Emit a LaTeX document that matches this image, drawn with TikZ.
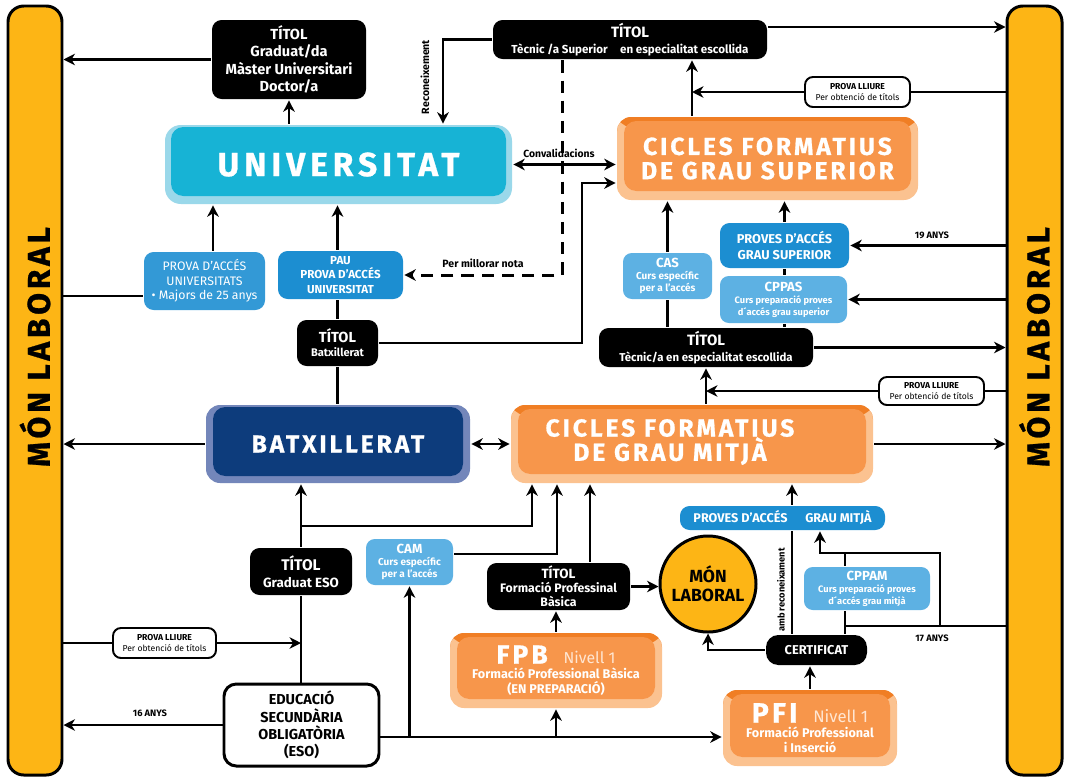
\documentclass[tikz,border=0pt]{standalone}
\usepackage{fontspec}
\setmainfont{Fira Sans}
\newfontfamily\widefont{Fira Sans}[LetterSpace=12, BoldFeatures={FakeBold=0.8}]
\newfontfamily\uniwide{Fira Sans}[LetterSpace=15, BoldFeatures={FakeBold=0.8}]
\usetikzlibrary{arrows.meta,calc}

\definecolor{barY}{HTML}{FDB515}
\definecolor{uniIn}{HTML}{17B3D5}
\definecolor{uniRim}{HTML}{9AD8EA}
\definecolor{cfIn}{HTML}{F7964B}
\definecolor{cfTop}{HTML}{F07E24}
\definecolor{cfRim}{HTML}{FBC290}
\definecolor{btIn}{HTML}{0D3C7C}
\definecolor{btRim}{HTML}{7386BA}
\definecolor{blueBox}{HTML}{1C8ED1}
\definecolor{lightBox}{HTML}{5DB1E3}
\definecolor{nivC}{HTML}{FFE6D2}

\newcommand{\fsz}[2]{\fontsize{#1}{#2}\selectfont}

\begin{document}
\begin{tikzpicture}[x=0.02cm, y=-0.02cm, line width=1.5pt,
    >={Stealth[length=6.5pt,width=6.5pt,inset=2pt]},
    sz/.style 2 args={minimum width=#1*0.02cm, minimum height=#2*0.02cm, inner sep=0pt},
    bar/.style={draw=black, line width=1.7pt, fill=barY, rounded corners=9pt},
    blackbox/.style={fill=black, text=white, rounded corners=5.5pt, align=center},
    bluebox/.style={fill=blueBox, text=white, rounded corners=5.5pt, align=center},
    lightbox/.style={fill=lightBox, text=white, rounded corners=5pt, align=center},
    freebox/.style={draw=black, line width=1.1pt, fill=white, rounded corners=4.5pt,
        align=center, font=\fsz{4.9}{6}},
    unibox/.style={fill=uniRim, rounded corners=9pt, text=white, align=center,
        path picture={
            \fill[uniIn, rounded corners=7pt]
                ([shift={(6,2)}]path picture bounding box.north west) rectangle
                ([shift={(-6,-8)}]path picture bounding box.south east);
        }},
    cfbox/.style={fill=cfRim, rounded corners=8pt, text=white, align=center,
        path picture={
            \fill[cfTop] (path picture bounding box.north west) rectangle
                ([shift={(0,10)}]path picture bounding box.north east);
            \fill[cfIn, rounded corners=7pt]
                ([shift={(7,4)}]path picture bounding box.north west) rectangle
                ([shift={(-7,-9)}]path picture bounding box.south east);
        }},
    btbox/.style={fill=btRim, rounded corners=8pt, text=white, align=center,
        path picture={
            \fill[btIn, rounded corners=7pt]
                ([shift={(7,2)}]path picture bounding box.north west) rectangle
                ([shift={(-7,-7)}]path picture bounding box.south east);
        }},
    dashline/.style={dash pattern=on 7pt off 4.5pt, line width=1.7pt},
    lbl/.style={font=\bfseries\fsz{5.3}{6}, inner sep=0pt},
  ]
  \useasboundingbox (0,0) rectangle (1068,778);

  % side bars
  \node[bar, sz={54}{769}] (lbar) at (35,390.5) {};
  \node[bar, sz={55}{769}] (rbar) at (1034.5,390.5) {};
  \foreach \b in {lbar, rbar}
    \node[rotate=90, font=\widefont\bfseries\fsz{18}{18}] (\b-txt) at (\b |- 0,347) {MÓN LABORAL};

  % upper part
  \node[blackbox, sz={154}{79}, font=\bfseries\fsz{8.3}{9.9}] (titgrad) at (289,59.5)
    {TÍTOL\\Graduat/da\\Màster Universitari\\Doctor/a};
  \node[unibox, sz={347}{79}, font=\uniwide\bfseries\fsz{19}{19}] (uni) at (338.5,164.5) {UNIVERSITAT};
  \node[blackbox, sz={274}{39}, font=\bfseries\fsz{6.6}{8.8}] (titsup) at (630,39.5)
    {{\fsz{8.5}{8.8}TÍTOL}\\Tècnic /a Superior\hspace{7pt}en especialitat escollida};
  \node[cfbox, sz={301}{83}, font=\widefont\bfseries\fsz{14}{13.8}] (cfgs) at (767.5,158.5)
    {CICLES FORMATIUS\\DE GRAU SUPERIOR};
  \node[freebox, sz={105}{30}] (lliure1) at (857.5,92) {\textbf{PROVA LLIURE}\\Per obtenció de títols};

  \node[bluebox, fill=blueBox!90!white, sz={121}{58}, font=\fsz{7}{8.3}] (pauniv) at (204.5,281)
    {PROVA D'ACCÉS\\UNIVERSITATS\\• Majors de 25 anys};
  \node[bluebox, sz={125}{48}, font=\bfseries\fsz{6.6}{8.3}] (pau) at (340.5,275)
    {PAU\\PROVA D'ACCÉS\\UNIVERSITAT};
  \node[blackbox, sz={81}{46}, font=\bfseries\fsz{6.3}{8}] (titbatx) at (337.5,343)
    {{\fsz{8.3}{9}TÍTOL}\\Batxillerat};
  \node[lightbox, sz={89}{46}, font=\bfseries\fsz{5.7}{7}] (cas) at (667.5,276)
    {{\fsz{7.5}{8}CAS}\\Curs específic\\per a l'accés};
  \node[bluebox, sz={129}{45}, font=\bfseries\fsz{7.3}{9.6}] (pgs) at (784.5,245.5)
    {PROVES D'ACCÉS\\GRAU SUPERIOR};
  \node[lightbox, sz={127}{47}, font=\bfseries\fsz{5.3}{6.8}] (cppas) at (783.5,299.5)
    {{\fsz{7.5}{8}CPPAS}\\Curs preparació proves\\d´accés grau superior};
  \node[blackbox, sz={214}{39}, font=\bfseries\fsz{6.5}{8.8}] (tittec) at (706,347.5)
    {{\fsz{8.5}{8.8}TÍTOL}\\Tècnic/a en especialitat escollida};
  \node[freebox, sz={105}{28}] (lliure2) at (931.5,391) {\textbf{PROVA LLIURE}\\Per obtenció de títols};

  % middle
  \node[btbox, sz={264}{78}, font=\widefont\bfseries\fsz{14}{14}] (batx) at (338,444) {BATXILLERAT};
  \node[cfbox, sz={362}{78}] (cfgm) at (692,444) {};
  \node[font=\widefont\bfseries\fsz{14}{13.8}, text=white, align=center] (cfgm-txt) at (670,442)
    {CICLES FORMATIUS\\DE GRAU MITJÀ};

  % lower part
  \node[bluebox, sz={205}{24}, font=\bfseries\fsz{7.2}{7.5}] (pgm) at (782.5,518)
    {PROVES D'ACCÉS\hspace{10pt}GRAU MITJÀ};
  \node[blackbox, sz={102}{47}, font=\bfseries\fsz{7.6}{9.8}] (titeso) at (301,571.5)
    {{\fsz{8.8}{9.8}TÍTOL}\\Graduat ESO};
  \node[lightbox, sz={87}{46}, font=\bfseries\fsz{5.7}{7}] (cam) at (409.5,562)
    {{\fsz{7.5}{8}CAM}\\Curs específic\\per a l'accés};
  \node[blackbox, sz={143}{47}, font=\bfseries\fsz{7}{8}] (titfpb) at (558.5,586.5)
    {{\fsz{7.6}{8}TÍTOL}\\Formació Professinal\\Bàsica};
  \node[circle, draw=black, line width=1.7pt, fill=barY, minimum size=96*0.02cm, inner sep=0pt,
    align=center, font=\bfseries\fsz{10}{11}] (mon) at (708,584) {MÓN\\LABORAL};
  \node[lightbox, sz={126}{43}, font=\bfseries\fsz{5.3}{6.8}] (cppam) at (867,588.5)
    {{\fsz{7.5}{8}CPPAM}\\Curs preparació proves\\d´accés grau mitjà};
  \node[blackbox, rounded corners=7pt, sz={101}{30}, font=\bfseries\fsz{7.3}{7.5}] (cert) at (816.5,650) {CERTIFICAT};
  \node[freebox, sz={103}{30}] (lliure3) at (164.5,643) {\textbf{PROVA LLIURE}\\Per obtenció de títols};
  \node[draw=black, line width=1.7pt, fill=white, rounded corners=7pt, sz={155}{82}, align=center,
    font=\bfseries\fsz{8.2}{9.9}] (eso) at (301.5,725) {EDUCACIÓ\\SECUNDÀRIA\\OBLIGATÒRIA\\(ESO)};
  \node[cfbox, sz={212}{75}, font=\bfseries\fsz{7.2}{8.5}] (fpb) at (556,670.5)
    {{\widefont\fsz{15}{14}FPB}\hspace{9pt}{\mdseries\color{nivC}\fsz{9}{9}Nivell 1}\\Formació Professional Bàsica\\(EN PREPARACIÓ)};
  \node[cfbox, sz={174}{76}, font=\bfseries\fsz{7.2}{8.5}] (pfi) at (810,728)
    {{\widefont\fsz{16}{15}PFI}\hspace{9pt}{\mdseries\color{nivC}\fsz{9.5}{9}Nivell 1}\\Formació Professional\\i Inserció};

  % labels
  \node[lbl, rotate=90, font=\bfseries\fsz{6}{6}] (reclbl) at (425,77) {Reconeixement};
  \node[lbl, font=\bfseries\fsz{6}{6}] (millor) at (483,263) {Per millorar nota};
  \node[lbl, font=\bfseries\fsz{5.9}{6}] (conv) at (559,153) {Convalidacions};
  \node[lbl] (a19) at (932,235) {19 ANYS};
  \node[lbl] (a17) at (932,638) {17 ANYS};
  \node[lbl] (a16) at (150,713) {16 ANYS};
  \node[lbl, rotate=90] (ambrec) at (781,590) {amb reconeixament};

  % bends
  \coordinate (rk) at (443,0);
  \coordinate (dsh) at (562,0);
  \coordinate (bt) at (582,183);
  \coordinate (c1) at (692,0);
  \coordinate (pu) at (213,296);
  \coordinate (ee) at (532,526);
  \coordinate (cm) at (557,554);
  \coordinate (cf) at (590,0);
  \coordinate (eb) at (0,737);
  \coordinate (ar) at (792,0);
  \coordinate (cx) at (845,626);
  \coordinate (cy) at (940,553);
  \coordinate (ca) at (820,0);
  \coordinate (tg) at (0,27);

  % connectors
  \draw[->] (titgrad.west) -- (titgrad.west -| lbar.east);
  \draw[->] (uni.north -| titgrad.south) -- (titgrad.south);
  \draw[->] (titsup.east |- tg) -- (tg -| rbar.west);
  \draw[->] (titsup.west) -| (rk |- uni.north);
  \draw[dashline, ->] (dsh |- titsup.south) |- (pau.east);
  \draw[<->] (uni.east) -- (uni.east -| cfgs.west);
  \draw[->] (titbatx.east) -| (bt) -- (bt -| cfgs.west);
  \draw[->] (c1 |- cfgs.north) -- (c1 |- titsup.south);
  \draw (lliure1.east) -- (lliure1.east -| rbar.west);
  \draw[->] (lliure1.west) -- (lliure1.west -| c1);
  \draw[->] (pgs.north) -- (pgs.north |- cfgs.south);
  \draw[->] (pgs.east -| rbar.west) -- (pgs.east);
  \draw[->] (cppas.east -| rbar.west) -- (cppas.east);
  \draw (pgs.south) -- (pgs.south |- cppas.north);
  \draw (pgs.south |- cppas.south) -- (pgs.south |- tittec.north);
  \draw (cas.south) -- (cas.south |- tittec.north);
  \draw[->] (cas.north) -- (cas.north |- cfgs.south);
  \draw[->] (tittec.east) -- (tittec.east -| rbar.west);
  \draw[->] (cfgm.north -| tittec.south) -- (tittec.south);
  \draw (lliure2.east) -- (lliure2.east -| rbar.west);
  \draw[->] (lliure2.west) -- (lliure2.west -| tittec.south);
  \draw[->] (cfgm.east) -- (cfgm.east -| rbar.west);
  \draw[->] (batx.west) -- (batx.west -| lbar.east);
  \draw[<->] (batx.east) -- (cfgm.west);
  \draw[->] (titbatx.north |- pau.north) -- (titbatx.north |- uni.south);
  \draw (titbatx.north) -- (titbatx.north |- pau.south);
  \draw (titbatx.south) -- (titbatx.south |- batx.north);
  \draw[->] (pu |- pauniv.north) -- (pu |- uni.south);
  \draw (pu -| lbar.east) -- (pu -| pauniv.west);
  \draw[->] (titeso.north) -- (titeso.north |- batx.south);
  \draw[->] (titeso.north |- ee) -| (ee |- cfgm.south);
  \draw[->] (cam.east |- cm) -| (cm |- cfgm.south);
  \draw[->] (cf |- titfpb.north) -- (cf |- cfgm.south);
  \draw (titeso.south) -- (titeso.south |- eso.north);
  \draw (lliure3.west -| lbar.east) -- (lliure3.west);
  \draw[->] (lliure3.east) -- (lliure3.east -| titeso.south);
  \draw[->] (eso.west) -- (eso.west -| lbar.east);
  \draw[->] (eb -| eso.east) -- (eb -| pfi.west);
  \draw[->] (eb -| cam.south) -- (cam.south);
  \draw[->] (eb -| fpb.south) -- (fpb.south);
  \draw[->] (fpb.north) -- (fpb.north |- titfpb.south);
  \draw[->] (titfpb.east) -- (titfpb.east -| mon.west);
  \draw[->] (cert.west) -| (mon.south);
  \draw[->] (pfi.north) -- (pfi.north |- cert.south);
  \draw (ar |- cert.north) -- (ar |- pgm.south);
  \draw[->] (ar |- pgm.north) -- (ar |- cfgm.south);
  \draw (cx -| rbar.west) -- (cx) -- (cx |- cert.north);
  \draw (cx) -- (cx |- cppam.south);
  \draw (cy |- cx) -- (cy) -- (cy -| cx);
  \draw[->] (cx |- cppam.north) -- (cx |- cy) -| (ca |- pgm.south);
\end{tikzpicture}
\end{document}
